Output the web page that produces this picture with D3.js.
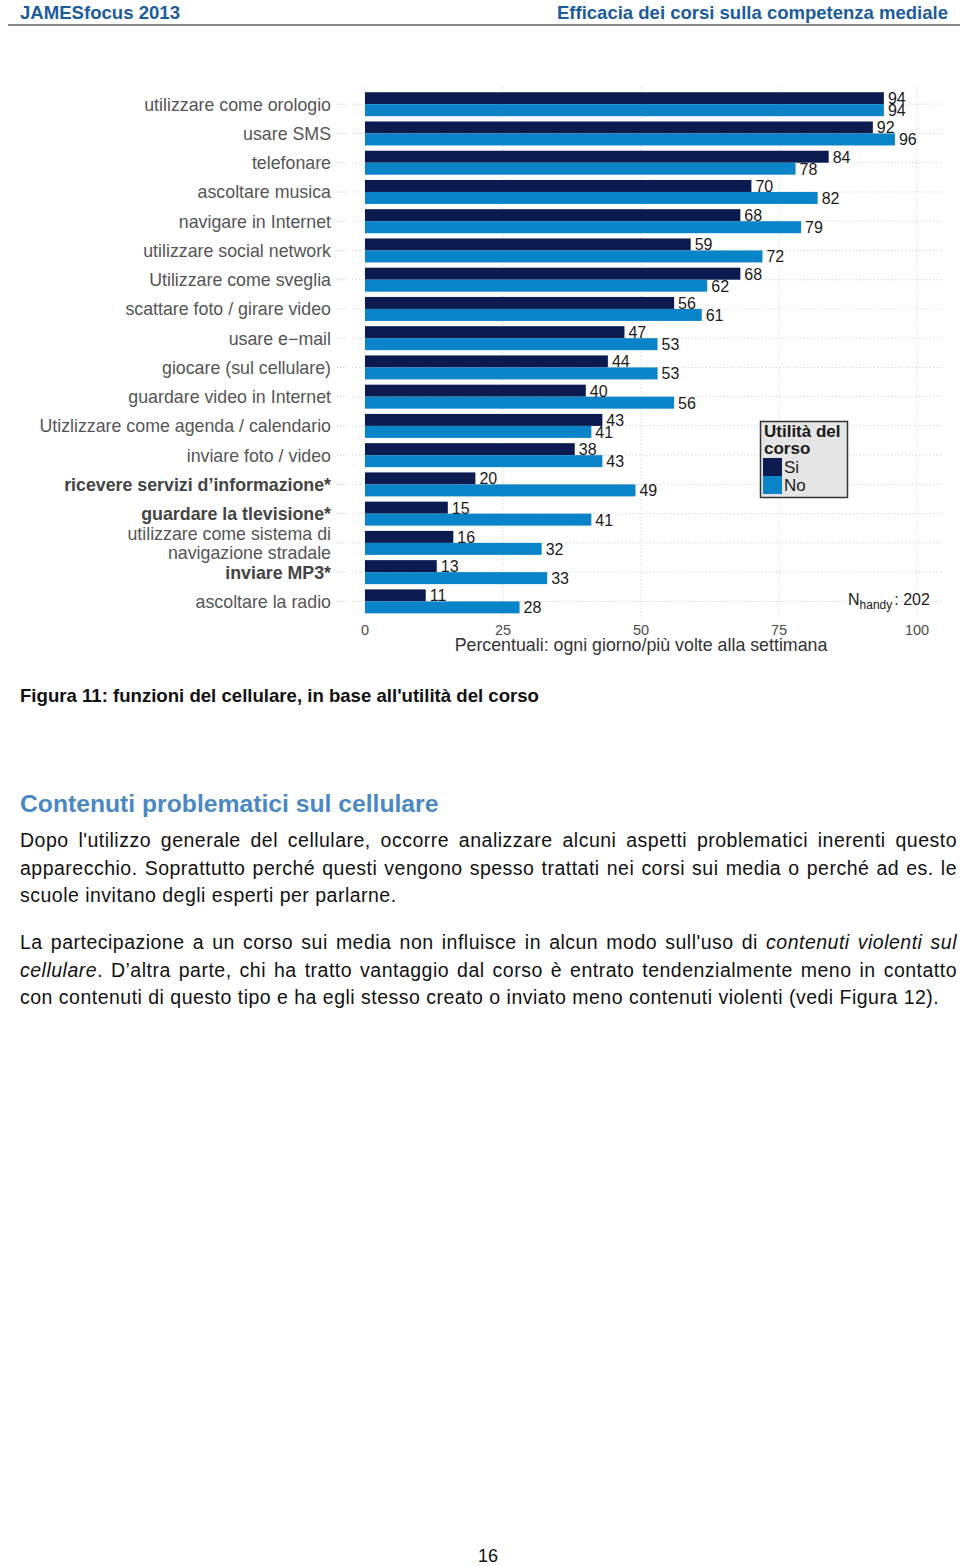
<!DOCTYPE html>
<html>
<head>
<meta charset="utf-8">
<script src="https://cdn.jsdelivr.net/npm/d3@7/dist/d3.min.js"></script>
<style>
  html, body { margin: 0; padding: 0; background: #fff; }
  body { width: 960px; height: 1566px; position: relative; overflow: hidden; font-family: "Liberation Sans", Arial, sans-serif; }
  svg { position: absolute; left: 0; top: 0; }
  .para { position: absolute; left: 20px; width: 937px; font-size: 19.5px; letter-spacing: 0.49px; line-height: 27.5px; text-align: justify; color: #111; }
  .para i { font-style: italic; }
</style>
</head>
<body>
<svg id="chart" width="960" height="1566"></svg>
<div class="para" style="top:827px;">Dopo l'utilizzo generale del cellulare, occorre analizzare alcuni aspetti problematici inerenti questo apparecchio. Soprattutto perché questi vengono spesso trattati nei corsi sui media o perché ad es. le scuole invitano degli esperti per parlarne.</div>
<div class="para" style="top:929px;">La partecipazione a un corso sui media non influisce in alcun modo sull'uso di <i>contenuti violenti sul cellulare</i>. D’altra parte, chi ha tratto vantaggio dal corso è entrato tendenzialmente meno in contatto con contenuti di questo tipo e ha egli stesso creato o inviato meno contenuti violenti (vedi Figura 12).</div>
<script>
// ---------------- DATA ----------------
const categories = [
  "utilizzare come orologio",
  "usare SMS",
  "telefonare",
  "ascoltare musica",
  "navigare in Internet",
  "utilizzare social network",
  "Utilizzare come sveglia",
  "scattare foto / girare video",
  "usare e\u2212mail",
  "giocare (sul cellulare)",
  "guardare video in Internet",
  "Utizlizzare come agenda / calendario",
  "inviare foto / video",
  "ricevere servizi d\u2019informazione*",
  "guardare la tlevisione*",
  "utilizzare come sistema di|navigazione stradale",
  "inviare MP3*",
  "ascoltare la radio"
];
const boldCategories = [
  "ricevere servizi d\u2019informazione*",
  "guardare la tlevisione*",
  "inviare MP3*"
];
const seriesNames = ["Si", "No"];
const valuesSi = [94, 92, 84, 70, 68, 59, 68, 56, 47, 44, 40, 43, 38, 20, 15, 16, 13, 11];
const valuesNo = [94, 96, 78, 82, 79, 72, 62, 61, 53, 53, 56, 41, 43, 49, 41, 32, 33, 28];
const xTicks = [0, 25, 50, 75, 100];
const xTitle = "Percentuali: ogni giorno/più volte alla settimana";
const legendTitle = ["Utilità del", "corso"];
const nLabel = { main: "N", sub: "handy", value: ": 202" };

// ---------------- CHART ----------------
const svg = d3.select("#chart");
const FONT = "'Liberation Sans', Arial, sans-serif";
const colors = d3.scaleOrdinal().domain(seriesNames).range(["#0b1a4f", "#0a84c8"]);

// Header
svg.append("text").attr("x", 20).attr("y", 19)
  .attr("font-family", FONT).attr("font-weight", "bold").attr("font-size", 19)
  .attr("fill", "#1c5c9c").attr("textLength", 160).attr("lengthAdjust", "spacingAndGlyphs")
  .text("JAMESfocus 2013");
svg.append("text").attr("x", 948).attr("y", 19).attr("text-anchor", "end")
  .attr("font-family", FONT).attr("font-weight", "bold").attr("font-size", 19)
  .attr("fill", "#1c5c9c").attr("textLength", 391).attr("lengthAdjust", "spacingAndGlyphs")
  .text("Efficacia dei corsi sulla competenza mediale");
svg.append("line").attr("x1", 8).attr("x2", 960).attr("y1", 25).attr("y2", 25)
  .attr("stroke", "#8a8a8a").attr("stroke-width", 2);

// Scales
const x = d3.scaleLinear().domain([0, 100]).range([365, 917]);
const y = d3.scaleBand().domain(categories).range([89.6, 616]).paddingInner(0.18).paddingOuter(0.09);
const ySub = d3.scaleBand().domain(seriesNames).range([0, y.bandwidth()]);

const panel = { left: 352, right: 942, top: 86, bottom: 619 };

const data = categories.map((c, i) => ({ cat: c, Si: valuesSi[i], No: valuesNo[i] }));

// Gridlines
const grid = svg.append("g").attr("stroke", "#d9d9d9").attr("stroke-width", 1).attr("stroke-dasharray", "1.5,2");
grid.selectAll("line.h").data(categories).join("line").attr("class", "h")
  .attr("x1", panel.left).attr("x2", panel.right)
  .attr("y1", d => y(d) + y.bandwidth() / 2).attr("y2", d => y(d) + y.bandwidth() / 2);
grid.selectAll("line.v").data(xTicks).join("line").attr("class", "v")
  .attr("x1", d => x(d)).attr("x2", d => x(d))
  .attr("y1", panel.top).attr("y2", panel.bottom);

// Y axis ticks (dotted)
svg.append("g").attr("stroke", "#cfcfcf").attr("stroke-dasharray", "1.5,1.5")
  .selectAll("line").data(categories).join("line")
  .attr("x1", 337).attr("x2", 347)
  .attr("y1", d => y(d) + y.bandwidth() / 2).attr("y2", d => y(d) + y.bandwidth() / 2);

// Bars
const groups = svg.append("g").selectAll("g").data(data).join("g")
  .attr("transform", d => `translate(0,${y(d.cat)})`);
groups.selectAll("rect").data(d => seriesNames.map(s => ({ s, v: d[s] }))).join("rect")
  .attr("x", x(0)).attr("y", d => ySub(d.s))
  .attr("width", d => x(d.v) - x(0)).attr("height", ySub.bandwidth())
  .attr("fill", d => colors(d.s));
groups.selectAll("text").data(d => seriesNames.map(s => ({ s, v: d[s] }))).join("text")
  .attr("x", d => x(d.v) + 4).attr("y", d => ySub(d.s) + ySub.bandwidth() / 2 + 6)
  .attr("font-family", FONT).attr("font-size", 16).attr("fill", "#1a1a1a")
  .text(d => d.v);

// Category labels
const lab = svg.append("g").attr("font-family", FONT).attr("font-size", 17.8).attr("fill", "#555")
  .attr("text-anchor", "end");
categories.forEach(c => {
  const lines = c.split("|");
  const cy = y(c) + y.bandwidth() / 2;
  const t = lab.append("text")
    .attr("font-weight", boldCategories.includes(c) ? "bold" : "normal")
    .attr("fill", boldCategories.includes(c) ? "#444" : "#555");
  lines.forEach((ln, k) => {
    t.append("tspan").attr("x", 331)
      .attr("y", cy + 6.5 + (k - (lines.length - 1) / 2) * 19.5)
      .text(ln);
  });
});

// X axis tick labels
svg.append("g").selectAll("text").data(xTicks).join("text")
  .attr("x", d => x(d)).attr("y", 635).attr("text-anchor", "middle")
  .attr("font-family", FONT).attr("font-size", 14.5).attr("fill", "#4d4d4d")
  .text(d => d);
svg.append("text").attr("x", x(50)).attr("y", 651).attr("text-anchor", "middle")
  .attr("font-family", FONT).attr("font-size", 17.8).attr("fill", "#333").text(xTitle);

// Legend
const lg = svg.append("g").attr("font-family", FONT);
lg.append("rect").attr("x", 760.5).attr("y", 421.5).attr("width", 87).attr("height", 76)
  .attr("fill", "#e5e5e5").attr("stroke", "#333").attr("stroke-width", 1.5);
legendTitle.forEach((t, i) => {
  lg.append("text").attr("x", 764).attr("y", 437 + i * 17).attr("font-size", 17)
    .attr("font-weight", "bold").attr("fill", "#1a1a1a").text(t);
});
const keyScale = d3.scaleBand().domain(seriesNames).range([458, 494]);
lg.selectAll("rect.k").data(seriesNames).join("rect").attr("class", "k")
  .attr("x", 763).attr("y", d => keyScale(d)).attr("width", 19).attr("height", keyScale.bandwidth())
  .attr("fill", d => colors(d));
lg.selectAll("text.k").data(seriesNames).join("text").attr("class", "k")
  .attr("x", 784).attr("y", d => keyScale(d) + keyScale.bandwidth() / 2 + 6)
  .attr("font-size", 17).attr("fill", "#1a1a1a").text(d => d);

// N label
const nt = svg.append("text").attr("x", 848).attr("y", 605)
  .attr("font-family", FONT).attr("font-size", 16).attr("fill", "#222");
nt.append("tspan").text(nLabel.main);
nt.append("tspan").attr("font-size", 12).attr("dy", 4).text(nLabel.sub);
nt.append("tspan").attr("dy", -4).attr("dx", 2).text(nLabel.value);

// Caption
svg.append("text").attr("x", 20).attr("y", 702)
  .attr("font-family", FONT).attr("font-size", 18.6).attr("font-weight", "bold").attr("fill", "#111")
  .text("Figura 11: funzioni del cellulare, in base all'utilità del corso");

// Section heading
svg.append("text").attr("x", 20).attr("y", 812)
  .attr("font-family", FONT).attr("font-size", 24.7).attr("font-weight", "bold").attr("fill", "#4a88c4")
  .text("Contenuti problematici sul cellulare");

// Page number
svg.append("text").attr("x", 488).attr("y", 1562).attr("text-anchor", "middle")
  .attr("font-family", FONT).attr("font-size", 18).attr("fill", "#111").text("16");
</script>
</body>
</html>
